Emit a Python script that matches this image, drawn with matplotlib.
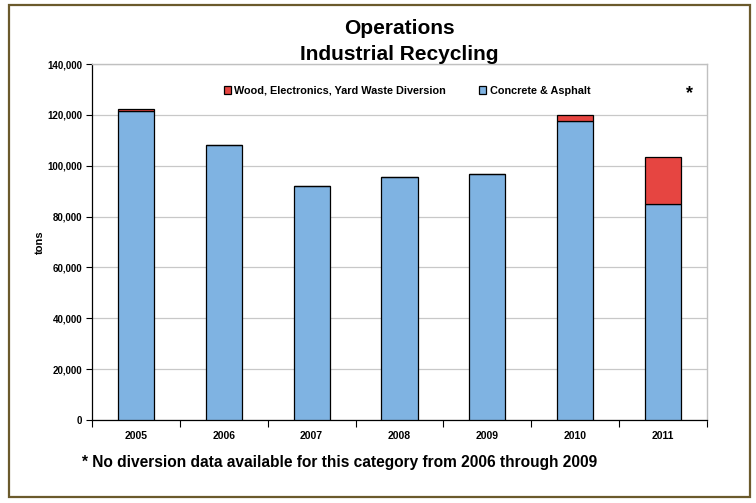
import matplotlib.pyplot as plt
import matplotlib.patches as patches
import numpy as np

plt.rcParams['font.family'] = ['Liberation Sans', 'DejaVu Sans']

# data (tons)
years = ['2005', '2006', '2007', '2008', '2009', '2010', '2011']
concrete = [121700, 108200, 92200, 95600, 96900, 117600, 84800]
wood = [800, 0, 0, 0, 0, 2200, 18700]
yticks = [0, 20000, 40000, 60000, 80000, 100000, 120000, 140000]

blue = '#7fb3e2'
red = '#e64541'

fig = plt.figure(figsize=(7.56, 5.03), dpi=100)
ax = fig.add_axes([92/756, 83/503, 615/756, 356/503])

x = np.arange(len(years))
ax.bar(x, concrete, width=0.41, color=blue, edgecolor='black', linewidth=0.9,
       label='Concrete & Asphalt', zorder=3)
ax.bar(x, wood, width=0.41, bottom=concrete, color=red, edgecolor='black',
       linewidth=0.9, label='Wood, Electronics, Yard Waste Diversion', zorder=3)

ax.set_xlim(-0.5, len(years) - 0.5)
ax.set_ylim(0, 140000)
ax.set_yticks(yticks)
ax.set_yticklabels(['{:,}'.format(v) for v in yticks], fontsize=7, fontweight='bold')
ax.set_xticks(x)
ax.set_xticklabels(years, fontsize=7.5, fontweight='bold')
ax.set_xticks(np.arange(-0.5, len(years)), minor=True)
ax.tick_params(axis='x', which='major', length=0, pad=8)
ax.tick_params(axis='x', which='minor', length=5, width=0.8, direction='out')
ax.tick_params(axis='y', length=4, width=0.8, direction='out', pad=3)

ax.grid(axis='y', color='#c8c8c8', linewidth=0.9, zorder=0)
for s in ['top', 'right']:
    ax.spines[s].set_color('#c0c0c0')
    ax.spines[s].set_linewidth(1.0)
for s in ['left', 'bottom']:
    ax.spines[s].set_color('black')
    ax.spines[s].set_linewidth(0.9)

ax.set_ylabel('tons', fontsize=8, fontweight='bold', labelpad=2)

h, l = ax.get_legend_handles_labels()
ax.legend(h[::-1], l[::-1], loc='center', bbox_to_anchor=(0.512, 0.925), ncol=2,
          frameon=False, prop={'size': 7.8, 'weight': 'bold'},
          handlelength=0.7, handleheight=0.7, handletextpad=0.3, columnspacing=3.0)

ax.text(0.972, 0.918, '*', transform=ax.transAxes, fontsize=13, fontweight='bold',
        ha='center', va='center')

fig.text(399/756, 1 - 28/503, 'Operations', fontsize=15, fontweight='bold',
         ha='center', va='center')
fig.text(399/756, 1 - 54/503, 'Industrial Recycling', fontsize=15, fontweight='bold',
         ha='center', va='center')

fig.text(82/756, 1 - 463/503,
         '* No diversion data available for this category from 2006 through 2009',
         fontsize=11.2, fontweight='bold', ha='left', va='center')

frame = patches.Rectangle((9/756, 6/503), 741/756, 492/503, transform=fig.transFigure,
                          fill=False, edgecolor='#6b5a2c', linewidth=1.6)
fig.patches.append(frame)

fig.savefig('out.png', dpi=100)
